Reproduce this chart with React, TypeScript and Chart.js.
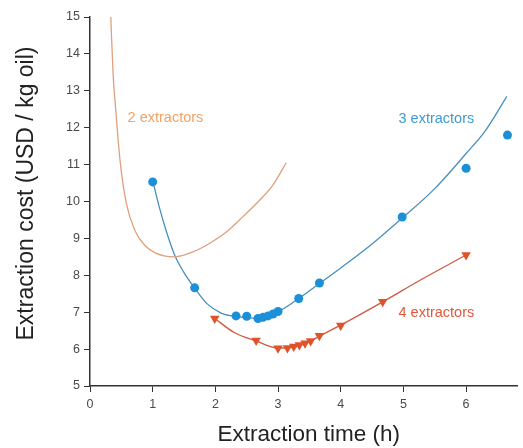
import React, { useEffect, useRef } from "react";
import { Chart, registerables } from "chart.js";

Chart.register(...registerables);

// 2 extractors model curve
const fit2X = [0.33, 0.37, 0.41, 0.48, 0.58, 0.72, 0.88, 1.05, 1.2, 1.35, 1.65, 1.91, 2.18, 2.44, 2.71, 2.92, 3.13];
const fit2Y = [15.05, 13.4, 12.5, 11.1, 9.95, 9.2, 8.8, 8.6, 8.52, 8.5, 8.64, 8.87, 9.18, 9.59, 10.04, 10.45, 11.05];

// 3 extractors model curve
const fit3X = [1.01, 1.11, 1.22, 1.35, 1.49, 1.67, 1.86, 2.1, 2.34, 2.6, 2.84, 3.0, 3.33, 3.67, 4.0, 4.5, 5.0, 5.5, 6.0, 6.3, 6.65];
const fit3Y = [10.5, 9.82, 9.18, 8.55, 8.1, 7.65, 7.24, 6.97, 6.88, 6.84, 6.92, 7.01, 7.37, 7.79, 8.2, 8.85, 9.58, 10.35, 11.3, 11.9, 12.85];

// 4 extractors model curve
const fit4X = [1.99, 2.3, 2.65, 3.0, 3.3, 3.5, 3.66, 4.0, 4.67, 5.3, 6.0];
const fit4Y = [6.83, 6.45, 6.22, 6.03, 6.07, 6.2, 6.35, 6.65, 7.28, 7.9, 8.55];

// 3 extractors data points
const pts3X = [1.0, 1.67, 2.33, 2.5, 2.68, 2.76, 2.84, 2.92, 3.0, 3.33, 3.66, 4.98, 6.0, 6.66];
const pts3Y = [10.53, 7.66, 6.9, 6.89, 6.83, 6.86, 6.9, 6.95, 7.02, 7.37, 7.79, 9.58, 10.9, 11.8];

// 4 extractors data points
const pts4X = [1.99, 2.65, 3.0, 3.15, 3.25, 3.34, 3.43, 3.52, 3.66, 4.0, 4.67, 6.0];
const pts4Y = [6.83, 6.23, 6.02, 6.03, 6.07, 6.11, 6.16, 6.22, 6.36, 6.64, 7.28, 8.55];

// annotation labels
const labelTexts = ["2 extractors", "3 extractors", "4 extractors"];
const labelX = [0.6, 6.13, 6.13];
const labelY = [12.26, 12.24, 6.98];
const labelAlign: CanvasTextAlign[] = ["left", "right", "right"];
const labelColors = ["#F2A263", "#3D9BD3", "#E2573A"];

const xTitle = "Extraction time (h)";
const yTitle = "Extraction cost (USD / kg oil)";

const zip = (xs: number[], ys: number[]) => xs.map((x, i) => ({ x, y: ys[i] }));

const FONT = "'Liberation Sans', Arial, sans-serif";

const labelPlugin = {
  id: "curveLabels",
  afterDatasetsDraw(chart: any) {
    const { ctx, scales, chartArea } = chart;
    ctx.save();
    ctx.font = `14.5px ${FONT}`;
    ctx.textBaseline = "middle";
    labelTexts.forEach((t, i) => {
      ctx.fillStyle = labelColors[i];
      ctx.textAlign = labelAlign[i];
      ctx.fillText(t, scales.x.getPixelForValue(labelX[i]), scales.y.getPixelForValue(labelY[i]));
    });
    // axis titles
    ctx.fillStyle = "#222";
    ctx.textAlign = "center";
    ctx.font = `22.5px ${FONT}`;
    ctx.fillText(xTitle, (chartArea.left + chartArea.right) / 2 + 5, chartArea.bottom + 49);
    ctx.translate(27, (chartArea.top + chartArea.bottom) / 2 - 8);
    ctx.rotate(-Math.PI / 2);
    ctx.font = `23px ${FONT}`;
    ctx.fillText(yTitle, 0, 0);
    ctx.restore();
  },
};

export default function App() {
  const ref = useRef<HTMLCanvasElement>(null);
  useEffect(() => {
    document.body.style.margin = "0";
    if (!ref.current) return;
    const chart = new Chart(ref.current, {
      type: "line",
      data: {
        datasets: [
          {
            label: "3 extractors data",
            data: zip(pts3X, pts3Y),
            showLine: false,
            pointStyle: "circle",
            pointRadius: 4.5,
            pointBackgroundColor: "#1B8FD8",
            pointBorderColor: "#1B8FD8",
            pointBorderWidth: 0,
          },
          {
            label: "4 extractors data",
            data: zip(pts4X, pts4Y),
            showLine: false,
            pointStyle: "triangle",
            rotation: 180,
            pointRadius: 5.5,
            pointBackgroundColor: "#E0522A",
            pointBorderColor: "#E0522A",
            pointBorderWidth: 0,
          } as any,
          {
            label: "2 extractors",
            data: zip(fit2X, fit2Y),
            borderColor: "#DFA07C",
            borderWidth: 1.3,
            pointRadius: 0,
            cubicInterpolationMode: "monotone",
          },
          {
            label: "3 extractors",
            data: zip(fit3X, fit3Y),
            borderColor: "#4A8FBC",
            borderWidth: 1.3,
            pointRadius: 0,
            cubicInterpolationMode: "monotone",
          },
          {
            label: "4 extractors",
            data: zip(fit4X, fit4Y),
            borderColor: "#CF5A40",
            borderWidth: 1.3,
            pointRadius: 0,
            cubicInterpolationMode: "monotone",
          },
        ],
      },
      options: {
        animation: false,
        responsive: false,
        layout: { padding: { top: 17, right: 0, left: 0, bottom: 0 } },
        plugins: { legend: { display: false }, tooltip: { enabled: false } },
        scales: {
          x: {
            type: "linear",
            min: 0,
            max: 6.82,
            afterBuildTicks: (s: any) => {
              s.ticks = s.ticks.filter((t: any) => Number.isInteger(t.value));
            },
            afterFit: (s: any) => {
              s.height = 62;
            },
            ticks: { stepSize: 1, color: "#4a4a4a", font: { family: FONT, size: 12.5 }, padding: 5 },
            grid: { drawOnChartArea: false, drawTicks: true, tickLength: 6, color: "#333" },
            border: { display: true, color: "#333", width: 1.5 },
            title: { display: false },
          },
          y: {
            type: "linear",
            min: 5,
            max: 15,
            afterFit: (s: any) => {
              s.width = 90;
            },
            ticks: { stepSize: 1, color: "#4a4a4a", font: { family: FONT, size: 12.5 }, padding: 4 },
            grid: { drawOnChartArea: false, drawTicks: true, tickLength: 6, color: "#333" },
            border: { display: true, color: "#333", width: 1.5 },
            title: { display: false },
          },
        },
      },
      plugins: [labelPlugin],
    });
    return () => chart.destroy();
  }, []);
  return <canvas ref={ref} width={523} height={448} style={{ display: "block" }} />;
}
